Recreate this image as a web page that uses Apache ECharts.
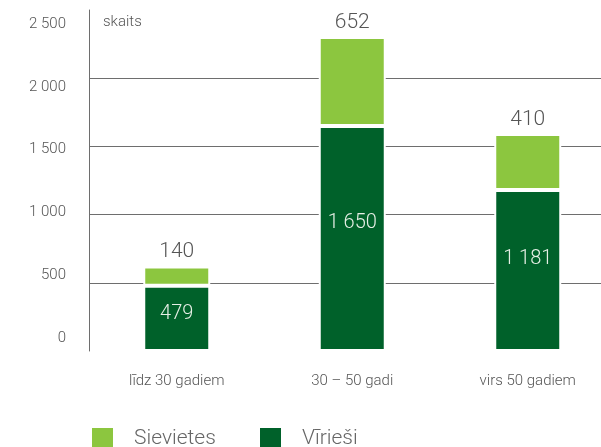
<!DOCTYPE html>
<html><head><meta charset="utf-8">
<script src="https://cdn.jsdelivr.net/npm/echarts@6/dist/echarts.min.js"></script>
<style>html,body{margin:0;padding:0;background:#fff}#c{width:601px;height:447px}</style>
</head><body><div id="c"></div>
<script>
const categories = ['līdz 30 gadiem', '30 – 50 gadi', 'virs 50 gadiem'];
const men = [479, 1650, 1181];
const women = [140, 652, 410];
const seriesNames = ['Sievietes', 'Vīrieši'];
const yTicks = [0, 500, 1000, 1500, 2000, 2500];

const FONT = 'Roboto';
const fmt = v => String(v).replace(/\B(?=(\d{3})+(?!\d))/g, ' ');
const LIGHT = '#8cc63f', DARK = '#00612a', TXT = '#555555';

const chart = echarts.init(document.getElementById('c'));
chart.setOption({
  animation: false,
  backgroundColor: '#ffffff',
  textStyle: { fontFamily: FONT },
  grid: [
    { left: 89, width: 526.5, top: 10, bottom: 96, outerBoundsMode: 'none', containLabel: false },
    { left: 89, right: 0, top: 10, bottom: 96, outerBoundsMode: 'none' },
    { left: 89, right: 0, top: 24, bottom: 109, outerBoundsMode: 'none' }
  ],
  xAxis: [
    { type: 'category', gridIndex: 0, data: categories,
      axisLine: { show: false }, axisTick: { show: false },
      axisLabel: { margin: 23, fontSize: 15, color: TXT, fontFamily: FONT, fontWeight: 300 } },
    { type: 'value', gridIndex: 1, show: false },
    { type: 'value', gridIndex: 2, show: false }
  ],
  yAxis: [
    { type: 'value', gridIndex: 0, min: 0, max: 2500, show: false },
    { type: 'value', gridIndex: 1, min: 0, max: 2500, interval: 500,
      axisLine: { show: true, lineStyle: { color: '#6e6e6e', width: 1 } },
      axisTick: { show: false }, axisLabel: { show: false },
      splitLine: { show: true, showMinLine: false, showMaxLine: false, lineStyle: { color: '#6e6e6e', width: 1 } } },
    { type: 'value', gridIndex: 2, min: yTicks[0], max: yTicks[yTicks.length - 1], interval: 500,
      axisLine: { show: false }, axisTick: { show: false }, splitLine: { show: false },
      axisLabel: { margin: 23, fontSize: 15, color: TXT, fontFamily: FONT, fontWeight: 300, formatter: v => fmt(v) } }
  ],
  graphic: [
    { type: 'text', left: 103, top: 15, style: { text: 'skaits', fontSize: 15, fill: TXT, fontFamily: FONT, fontWeight: 300 } }
  ],
  legend: [
    { data: [seriesNames[0]], left: 92, top: 428, padding: 0, itemWidth: 21, itemHeight: 21, icon: 'rect',
      itemStyle: { borderWidth: 0 },
      textStyle: { fontSize: 21, color: '#666', fontFamily: FONT, fontWeight: 300, padding: [0, 0, 0, 16] } },
    { data: [seriesNames[1]], left: 260, top: 428, padding: 0, itemWidth: 21, itemHeight: 21, icon: 'rect',
      itemStyle: { borderWidth: 0 },
      textStyle: { fontSize: 21, color: '#666', fontFamily: FONT, fontWeight: 300, padding: [0, 0, 0, 16] } }
  ],
  series: [
    { name: seriesNames[1], type: 'bar', stack: 's', xAxisIndex: 0, yAxisIndex: 0, data: men, barWidth: 67, z: 3,
      itemStyle: { color: DARK, borderColor: '#fff', borderWidth: 2 },
      label: { show: true, position: ['50%', '43%'], align: 'center', verticalAlign: 'middle',
        fontSize: 20, color: '#e6efe6', fontFamily: FONT, fontWeight: 300, formatter: p => fmt(p.value) } },
    { name: seriesNames[0], type: 'bar', stack: 's', xAxisIndex: 0, yAxisIndex: 0, data: women, barWidth: 67, z: 3,
      itemStyle: { color: LIGHT, borderColor: '#fff', borderWidth: 2 },
      label: { show: true, position: 'top', distance: 4,
        fontSize: 21, color: TXT, fontFamily: FONT, fontWeight: 300, formatter: p => fmt(p.value) } }
  ]
});
</script></body></html>
